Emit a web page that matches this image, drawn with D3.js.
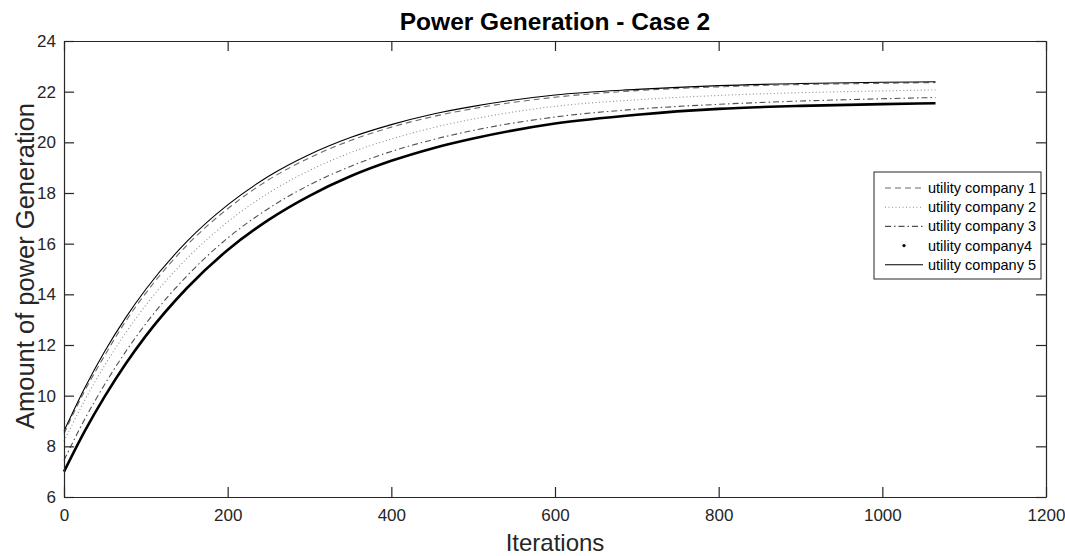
<!DOCTYPE html>
<html>
<head>
<meta charset="utf-8">
<script src="https://cdn.jsdelivr.net/npm/d3@7"></script>
<style>
  html, body { margin: 0; padding: 0; background: #fff; }
  svg { display: block; font-family: Arial, "Liberation Sans", Helvetica, sans-serif; }
</style>
</head>
<body>
<svg id="chart" width="1065" height="556"></svg>
<script>
// ---- Data ----
const iterations = [0, 25, 50, 75, 100, 150, 200, 250, 300, 350, 400, 450, 500, 600, 700, 800, 900, 1000, 1065];
const company1 = [8.5, 10.17, 11.6, 12.92, 14.05, 15.93, 17.38, 18.52, 19.39, 20.07, 20.6, 21.01, 21.33, 21.78, 22.04, 22.19, 22.28, 22.33, 22.36];
const company2 = [8.2, 9.8, 11.21, 12.46, 13.57, 15.41, 16.86, 18.0, 18.89, 19.59, 20.13, 20.57, 20.92, 21.42, 21.68, 21.85, 21.96, 22.03, 22.07];
const company3 = [7.45, 9.05, 10.46, 11.72, 12.84, 14.72, 16.22, 17.39, 18.32, 19.05, 19.64, 20.1, 20.47, 21.0, 21.31, 21.5, 21.63, 21.72, 21.77];
const company4 = [7.0, 8.58, 9.98, 11.24, 12.36, 14.24, 15.75, 16.94, 17.89, 18.66, 19.27, 19.76, 20.15, 20.74, 21.09, 21.32, 21.44, 21.51, 21.54];
const company5 = [8.6, 10.28, 11.76, 13.06, 14.2, 16.08, 17.53, 18.66, 19.52, 20.19, 20.7, 21.11, 21.42, 21.87, 22.09, 22.24, 22.32, 22.37, 22.39];
const seriesNames = ["utility company 1", "utility company 2", "utility company 3", "utility company4", "utility company 5"];
const xTicks = [0, 200, 400, 600, 800, 1000, 1200];
const yTicks = [6, 8, 10, 12, 14, 16, 18, 20, 22, 24];
const titleText = "Power Generation - Case 2";
const xLabel = "Iterations";
const yLabel = "Amount of power Generation";

(function () {
// ---- Layout ----
const svg = d3.select("#chart");
const mLeft = 64, mRight = 1046, mTop = 41, mBottom = 497;
const x = d3.scaleLinear().domain([0, 1200]).range([mLeft, mRight]);
const y = d3.scaleLinear().domain([6, 24]).range([mBottom, mTop]);
const axisColor = "#262626";
const tickLen = 10;

const styles = [
  { color: "#6a6a6a", width: 1.1, dash: "6,4" },
  { color: "#8c8c8c", width: 1.1, dash: "1,2.5" },
  { color: "#505050", width: 1.1, dash: "6,3,1.5,3" },
  { color: "#000000", width: 2.6, dash: null },
  { color: "#000000", width: 1.1, dash: null }
];
const allSeries = [company1, company2, company3, company4, company5];

svg.append("rect").attr("width", 1065).attr("height", 556).attr("fill", "#fff");

// ---- Lines ----
const line = d3.line()
  .x((d, i) => x(iterations[i]))
  .y(d => y(d))
  .curve(d3.curveMonotoneX);

const drawOrder = [3, 2, 1, 0, 4];
drawOrder.forEach(si => {
  const st = styles[si];
  svg.append("path")
    .datum(allSeries[si])
    .attr("d", line)
    .attr("fill", "none")
    .attr("stroke", st.color)
    .attr("stroke-width", st.width)
    .attr("stroke-dasharray", st.dash)
    .attr("stroke-linejoin", "round");
});

// ---- Axes (box with inward ticks on all sides) ----
const fmt = d3.format("d");
const gB = svg.append("g").attr("transform", `translate(0,${mBottom})`)
  .call(d3.axisBottom(x).tickValues(xTicks).tickFormat(fmt).tickSizeInner(-tickLen).tickSizeOuter(0).tickPadding(12));
const gT = svg.append("g").attr("transform", `translate(0,${mTop})`)
  .call(d3.axisTop(x).tickValues(xTicks).tickFormat("").tickSizeInner(-tickLen).tickSizeOuter(0));
const gL = svg.append("g").attr("transform", `translate(${mLeft},0)`)
  .call(d3.axisLeft(y).tickValues(yTicks).tickFormat(fmt).tickSizeInner(-tickLen).tickSizeOuter(0).tickPadding(8));
const gR = svg.append("g").attr("transform", `translate(${mRight},0)`)
  .call(d3.axisRight(y).tickValues(yTicks).tickFormat("").tickSizeInner(-tickLen).tickSizeOuter(0));

[gB, gT, gL, gR].forEach(g => {
  g.select(".domain").attr("stroke", axisColor).attr("stroke-width", 1.2);
  g.selectAll(".tick line").attr("stroke", axisColor).attr("stroke-width", 1.2);
  g.selectAll(".tick text").attr("fill", axisColor).attr("font-size", 17)
    .attr("font-family", "Arial, 'Liberation Sans', sans-serif");
});

// ---- Title and labels ----
svg.append("text")
  .attr("x", (mLeft + mRight) / 2).attr("y", 30)
  .attr("text-anchor", "middle")
  .attr("font-size", 24.5).attr("font-weight", "bold").attr("fill", "#000")
  .text(titleText);

svg.append("text")
  .attr("x", (mLeft + mRight) / 2).attr("y", 551)
  .attr("text-anchor", "middle")
  .attr("font-size", 24).attr("fill", axisColor)
  .text(xLabel);

svg.append("text")
  .attr("transform", `translate(34,${(mTop + mBottom) / 2 - 3}) rotate(-90)`)
  .attr("text-anchor", "middle")
  .attr("font-size", 25.5).attr("fill", axisColor)
  .text(yLabel);

// ---- Legend ----
const lgX = 874, lgY = 172, lgW = 167, lgH = 107;
const lg = svg.append("g");
lg.append("rect").attr("x", lgX).attr("y", lgY).attr("width", lgW).attr("height", lgH)
  .attr("fill", "#fff").attr("stroke", axisColor).attr("stroke-width", 1);
seriesNames.forEach((name, i) => {
  const cy = lgY + 16 + i * 19.2;
  const st = styles[i];
  if (i === 3) {
    lg.append("circle").attr("cx", 904).attr("cy", cy).attr("r", 1.6).attr("fill", "#000");
  } else {
    lg.append("line").attr("x1", 885).attr("x2", 923).attr("y1", cy).attr("y2", cy)
      .attr("stroke", st.color).attr("stroke-width", 1.1).attr("stroke-dasharray", st.dash);
  }
  lg.append("text").attr("x", 928).attr("y", cy + 5)
    .attr("font-size", 14.5).attr("fill", "#000").text(name);
});
})();
</script>
</body>
</html>
